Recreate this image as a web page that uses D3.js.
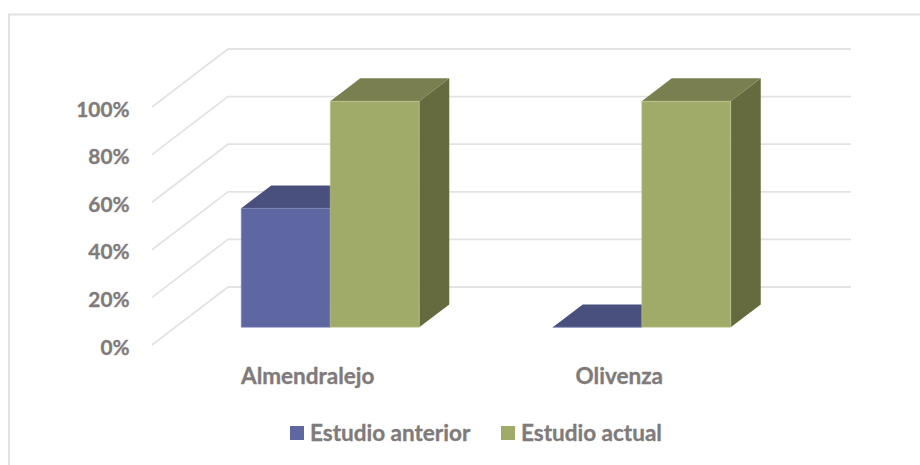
<!DOCTYPE html>
<html>
<head>
<meta charset="utf-8">
<script src="https://cdn.jsdelivr.net/npm/d3@7"></script>
<style>
  html, body { margin: 0; padding: 0; background: #fff; }
  text { font-family: Lato, "Open Sans", sans-serif; font-weight: 700; fill: #7f7b7b; stroke: #7f7b7b; stroke-width: 0.35px; }
</style>
</head>
<body>
<div id="chart"></div>
<script>
var categories = ["Almendralejo", "Olivenza"];
var seriesNames = ["Estudio anterior", "Estudio actual"];
var anterior = [50, 0];
var actual = [95, 95];
var yTicks = [0, 20, 40, 60, 80, 100];

var w = 920, h = 465;

var colors = {
  "Estudio anterior": { front: "#5f67a3", top: "#4a507e", side: "#3f446c", edge: "#8086b8" },
  "Estudio actual": { front: "#a1ab69", top: "#797f4f", side: "#656b3f", edge: "#c2c99a" }
};

var values = { "Estudio anterior": anterior, "Estudio actual": actual };

var svg = d3.select("#chart").append("svg")
  .attr("width", w)
  .attr("height", h)
  .style("display", "block");

// outer frame, the bottom and right edges fall outside the picture
svg.append("path")
  .attr("d", "M9,465V14.5H920")
  .attr("fill", "none")
  .attr("stroke", "#e2e2e2")
  .attr("stroke-width", 2);

// scales on the front plane of the 3d box
var x0 = d3.scaleBand().domain(categories).range([152, 775])
  .paddingInner(1.5 / 3.5).paddingOuter(0.75 / 3.5);
var x1 = d3.scaleBand().domain(seriesNames).range([0, x0.bandwidth()]);
var y = d3.scaleLinear().domain([0, 100]).range([345, 107]);

// depth 0 = front plane, 1 = back wall
var depthX = d3.scaleLinear().domain([0, 1]).range([0, 76]);
var depthY = d3.scaleLinear().domain([0, 1]).range([0, -58]);
var barFront = 0.305, barBack = 0.70;
var barNudge = -0.7;

function pt(px, py, d) {
  return [px + depthX(d), py + depthY(d)];
}
var line = d3.line();

// gridlines: slanted side wall + back wall
svg.append("g").selectAll("path")
  .data(yTicks)
  .enter()
  .append("path")
  .attr("d", function(t) {
    return line([pt(152, y(t), 0), pt(152, y(t), 1), pt(775, y(t), 1)]);
  })
  .attr("fill", "none")
  .attr("stroke", "#e3e3e3")
  .attr("stroke-width", 1.8);

// bars, drawn left to right so the second one covers the first one's side
var bars = svg.append("g");
categories.forEach(function(cat, i) {
  seriesNames.forEach(function(name) {
    var c = colors[name];
    var l = x0(cat) + x1(name) + barNudge;
    var r = l + x1.bandwidth();
    var b = y(0);
    var t = y(values[name][i]);

    bars.append("path")
      .attr("d", line([pt(r, b, barFront), pt(r, b, barBack), pt(r, t, barBack), pt(r, t, barFront)]) + "Z")
      .attr("fill", c.side);
    bars.append("path")
      .attr("d", line([pt(l, t, barFront), pt(l, t, barBack), pt(r, t, barBack), pt(r, t, barFront)]) + "Z")
      .attr("fill", c.top);
    bars.append("path")
      .attr("d", line([pt(l, t, barFront), pt(r, t, barFront), pt(r, b, barFront), pt(l, b, barFront)]) + "Z")
      .attr("fill", c.front)
      .attr("stroke", c.edge)
      .attr("stroke-width", 0.5);
  });
});

// value axis
var yAxis = svg.append("g")
  .attr("transform", "translate(152,2.5)")
  .call(d3.axisLeft(y).tickValues(yTicks).tickSize(0).tickPadding(22.5).tickFormat(function(d) { return d + "%"; }));
yAxis.select(".domain").remove();
yAxis.selectAll("text").style("font-size", "20.8px");
yAxis.attr("font-family", null);

// category axis
var xAxis = svg.append("g")
  .attr("transform", "translate(0,368)")
  .call(d3.axisBottom(x0).tickSize(0).tickPadding(0));
xAxis.select(".domain").remove();
xAxis.selectAll("text").style("font-size", "22.5px");
xAxis.attr("font-family", null);

// legend
var legendX = d3.scaleOrdinal().domain(seriesNames).range([290, 501]);
var legend = svg.append("g").selectAll("g")
  .data(seriesNames)
  .enter()
  .append("g")
  .attr("transform", function(d) { return "translate(" + legendX(d) + ",426)"; });
legend.append("rect")
  .attr("width", 14)
  .attr("height", 14)
  .attr("fill", function(d) { return colors[d].front; });
legend.append("text")
  .attr("x", 20)
  .attr("y", 14.7)
  .style("font-size", "22.5px")
  .text(function(d) { return d; });
</script>
</body>
</html>
